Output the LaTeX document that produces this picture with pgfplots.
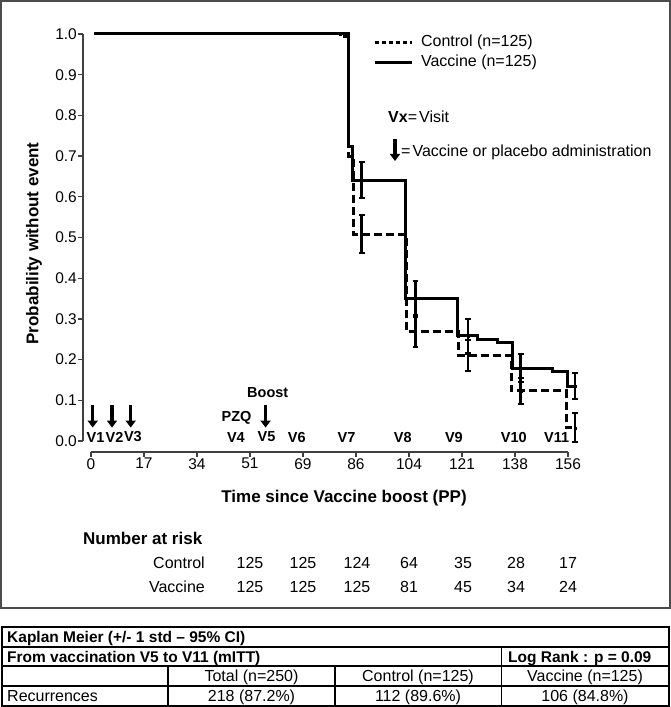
\documentclass[border=0pt]{standalone}
\usepackage{fontspec}
\setmainfont{Liberation Sans}
\usepackage{pgfplots}
\pgfplotsset{compat=1.18}
\usetikzlibrary{arrows.meta}
\newcommand{\fs}[1]{\fontsize{#1}{#1}\selectfont}

\begin{document}
\begin{tikzpicture}[x=1pt,y=1pt]
\path (0,0) rectangle (671,707);
% outer frame of the figure part
\draw[line width=1.6pt, black!70] (1.2,705.8) rectangle (669.8,{707-608});

\begin{axis}[
  at={(83pt,255pt)}, anchor=south west,
  scale only axis, width=497.2pt, height=418pt,
  xmin=-2.616, xmax=160, ymin=-0.027, ymax=1,
  axis x line*=bottom, axis y line*=left,
  separate axis lines,
  x axis line style={shorten <=8pt, shorten >=12pt},
  y axis line style={shorten <=11pt},
  axis line style={line width=1.2pt, black!75},
  xtick={0,17.333,34.667,52,69.333,86.667,104,121.333,138.667,156},
  xticklabels={0,17,34,51,69,86,104,121,138,156},
  ytick={0,0.1,0.2,0.3,0.4,0.5,0.6,0.7,0.8,0.9,1},
  yticklabels={0.0,0.1,0.2,0.3,0.4,0.5,0.6,0.7,0.8,0.9,1.0},
  tick align=outside, major tick length=5pt,
  tick style={line width=1.2pt, black!75},
  xticklabel style={inner sep=1pt, font=\fs{15.5}},
  yticklabel style={inner sep=1pt, font=\fs{15.5}},
  /pgf/number format/assume math mode=true,
  clip=false,
  legend style={at={(axis cs:92.2,0.998)}, anchor=north west, draw=none, fill=none,
    inner sep=0pt, row sep=4.5pt, font=\fs{16},
    nodes={inner sep=0pt, text height=11.5pt, text depth=3.5pt},
    /tikz/every odd column/.append style={column sep=8pt}},
  legend image code/.code={\draw[#1] (0pt,0pt) -- (37pt,0pt);},
  legend cell align=left,
  ebar/.style={forget plot, only marks, black, solid, line width=2.8pt,
    mark=square*, mark size=1.2pt, mark options={solid, fill=black, line width=0.5pt},
    error bars/.cd, y dir=both, y explicit,
    error bar style={draw=black, solid, line width=2.8pt},
    error mark=-,
    error mark options={draw=black, solid, line width=2pt, mark size=2.8pt, rotate=90}},
]
\addlegendimage{black, line width=3pt, dash pattern=on 4pt off 3pt}
\addlegendentry{Control (n=125)}
\addlegendimage{black, line width=3pt}
\addlegendentry{Vaccine (n=125)}

% Control (dashed)
\addplot[forget plot, black, line width=3pt, dash pattern=on 8pt off 4pt, mark=none] coordinates {
(1,1) (81.5,1) (81.5,0.993) (84.1,0.993) (84.1,0.70) (85.7,0.70) (85.7,0.508)
(103.2,0.508) (103.2,0.27) (120.1,0.27) (120.1,0.211) (137.4,0.211) (137.4,0.123)
(155.4,0.123) (155.4,0.032) (158.3,0.032)
};
% Vaccine (solid)
\addplot[forget plot, black, line width=3pt, mark=none] coordinates {
(1,1) (84.1,1) (84.1,0.723) (85.4,0.723) (85.4,0.641) (102.7,0.641) (102.7,0.349)
(120.0,0.349) (120.0,0.258) (126.3,0.258) (126.3,0.25) (133.1,0.25) (133.1,0.243)
(138.0,0.243) (138.0,0.179) (151.1,0.179) (151.1,0.17) (155.7,0.17) (155.7,0.135)
(158.3,0.135)
};
% error bars, Vaccine
\addplot[ebar] coordinates {
(88.6,0.641) +- (0,0.044)
(106.1,0.349) +- (0,0.044)
(123.3,0.258) += (0,0.042) -= (0,0.043)
(140.6,0.179) +- (0,0.035)
(158.3,0.135) +- (0,0.033)
};
% error bars, Control
\addplot[ebar] coordinates {
(88.6,0.508) +- (0,0.047)
(106.1,0.27) +- (0,0.04)
(123.3,0.211) +- (0,0.038)
(140.6,0.123) +- (0,0.033)
(158.3,0.032) += (0,0.037) -= (0,0.035)
};

% visit arrows
\pgfplotsinvokeforeach{0.56,6.87,12.98,57.1}{
  \draw[line width=3.5pt, -{Triangle[width=10pt,length=7pt]}] (axis cs:#1,0.0885) -- (axis cs:#1,0.033);
}
% visit labels
\begin{scope}[every node/.style={font=\bfseries\fs{14.5}, inner sep=0pt}]
\node at (axis cs:1.5,0.0098) {V1};
\node at (axis cs:7.7,0.0098) {V2};
\node at (axis cs:13.7,0.0098) {V3};
\node at (axis cs:47.4,0.0098) {V4};
\node at (axis cs:57.4,0.0098) {V5};
\node at (axis cs:67.3,0.0098) {V6};
\node at (axis cs:83.6,0.0098) {V7};
\node at (axis cs:102.0,0.0098) {V8};
\node at (axis cs:118.7,0.0098) {V9};
\node at (axis cs:138.3,0.0098) {V10};
\node at (axis cs:152.3,0.0098) {V11};
\node at (axis cs:47.6,0.057) {PZQ};
\node at (axis cs:57.8,0.118) {Boost};
\end{scope}
\end{axis}

% axis titles
\node[rotate=90, font=\bfseries\fs{17}, inner sep=0pt] at (34,{707-243.5}) {Probability without event};
\node[font=\bfseries\fs{17}, inner sep=0pt] at (344,{707-498}) {Time since Vaccine boost (PP)};

% key for visits
\node[anchor=base west, inner sep=0pt, font=\fs{16}] at (388,{707-122.7}) {\textbf{Vx}=\kern2pt Visit};
\draw[line width=3.5pt, -{Triangle[width=10pt,length=7pt]}] (395,{707-139}) -- (395,{707-161});
\node[anchor=base west, inner sep=0pt, font=\fs{16}] at (401,{707-156.4}) {=\kern2pt Vaccine or placebo administration};

% number at risk
\node[anchor=west, inner sep=0pt, font=\bfseries\fs{17}] at (83,{707-538}) {Number at risk};
\begin{scope}[every node/.style={inner sep=0pt, font=\fs{16}}]
\node[anchor=east] at (205,{707-563}) {Control};
\node[anchor=east] at (205,{707-587}) {Vaccine};
\foreach \x/\c/\v in {250/125/125, 303/125/125, 357/124/125, 409/64/81, 463/35/45, 516/28/34, 568/17/24} {
  \node at (\x,{707-563}) {\c};
  \node at (\x,{707-587}) {\v};
}
\end{scope}

% summary table
\draw[line width=1.6pt] (2,{707-627}) rectangle (669,{707-706});
\draw[line width=1.2pt] (2,{707-647}) -- (669,{707-647});
\draw[line width=1.2pt] (2,{707-666}) -- (669,{707-666});
\draw[line width=1.2pt] (2,{707-686}) -- (669,{707-686});
\draw[line width=1.2pt] (501.5,{707-647}) -- (501.5,{707-706});
\draw[line width=1.2pt] (168,{707-666}) -- (168,{707-706});
\draw[line width=1.2pt] (335,{707-666}) -- (335,{707-706});
\begin{scope}[every node/.style={inner sep=0pt, anchor=base}]
\node[anchor=base west, font=\bfseries\fs{15.5}] at (7,{707-642.6}) {Kaplan Meier (+/- 1 std -- 95\% CI)};
\node[anchor=base west, font=\bfseries\fs{15.5}] at (7,{707-662.1}) {From vaccination V5 to V11 (mITT)};
\node[anchor=base west, font=\bfseries\fs{15.5}] at (508,{707-662.1}) {Log Rank : p = 0.09};
\node[font=\fs{16}] at (251.5,{707-681.7}) {Total (n=250)};
\node[font=\fs{16}] at (418,{707-681.7}) {Control (n=125)};
\node[font=\fs{16}] at (585,{707-681.7}) {Vaccine (n=125)};
\node[anchor=base west, font=\fs{16}] at (7,{707-701.7}) {Recurrences};
\node[font=\fs{16}] at (251.5,{707-701.7}) {218 (87.2\%)};
\node[font=\fs{16}] at (418,{707-701.7}) {112 (89.6\%)};
\node[font=\fs{16}] at (585,{707-701.7}) {106 (84.8\%)};
\end{scope}
\end{tikzpicture}
\end{document}
